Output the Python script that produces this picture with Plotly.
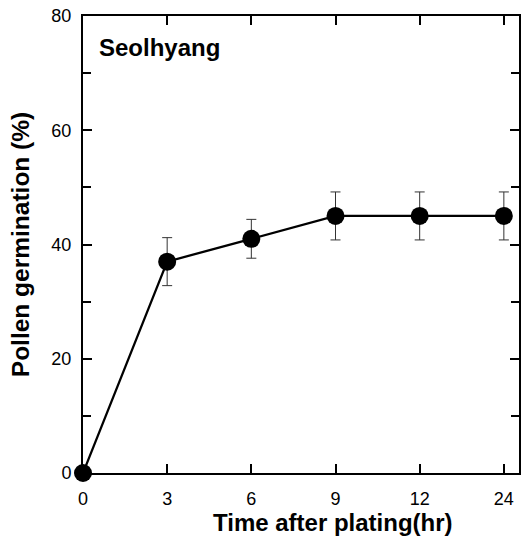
import plotly.graph_objects as go

time_labels = ["0", "3", "6", "9", "12", "24"]
germination = [0, 37, 41, 45, 45, 45]
errors = [0, 4.2, 3.4, 4.2, 4.2, 4.2]
cultivar = "Seolhyang"
x_title = "Time after plating(hr)"
y_title = "Pollen germination (%)"

x_idx = list(range(len(time_labels)))

fig = go.Figure()
fig.add_trace(go.Scatter(
    x=x_idx, y=germination,
    mode="lines+markers",
    line=dict(color="black", width=2.3),
    marker=dict(color="black", size=18),
    error_y=dict(type="data", array=errors, visible=True,
                 color="#333333", thickness=1, width=5),
    cliponaxis=False,
    showlegend=False,
))

font_family = "Liberation Sans, Arial, sans-serif"

fig.update_layout(
    width=523, height=539,
    margin=dict(l=83, r=2, t=16, b=66),
    plot_bgcolor="white", paper_bgcolor="white",
    font=dict(family=font_family, color="black"),
    xaxis=dict(
        range=[0, 5.18],
        tickmode="array", tickvals=x_idx, ticktext=time_labels,
        ticks="inside", ticklen=9, tickwidth=2, tickcolor="black",
        showline=True, linewidth=2, linecolor="black", mirror="ticks",
        showgrid=False, zeroline=False,
        tickfont=dict(size=18, family=font_family),
        ticklabelstandoff=8,
    ),
    yaxis=dict(
        range=[0, 80],
        tickmode="array", tickvals=[0, 20, 40, 60, 80],
        ticks="inside", ticklen=9, tickwidth=2, tickcolor="black",
        minor=dict(tickvals=[10, 30, 50, 70], ticks="inside", ticklen=8, tickwidth=2, tickcolor="black"),
        showline=True, linewidth=2, linecolor="black", mirror="ticks",
        showgrid=False, zeroline=False,
        tickfont=dict(size=18, family=font_family),
        ticklabelstandoff=6,
        title=dict(text="<b>" + y_title + "</b>", font=dict(size=24.5, family=font_family), standoff=15),
    ),
    annotations=[
        dict(
            text="<b>" + cultivar + "</b>", xref="paper", yref="paper",
            x=0.033, y=0.93, xanchor="left", yanchor="middle",
            showarrow=False, font=dict(size=24, family=font_family, color="black"),
        ),
        dict(
            text="<b>" + x_title + "</b>", xref="paper", yref="paper",
            x=0.573, y=-0.108, xanchor="center", yanchor="middle",
            showarrow=False, font=dict(size=24, family=font_family, color="black"),
        ),
    ],
)

fig.write_html("out.html")
